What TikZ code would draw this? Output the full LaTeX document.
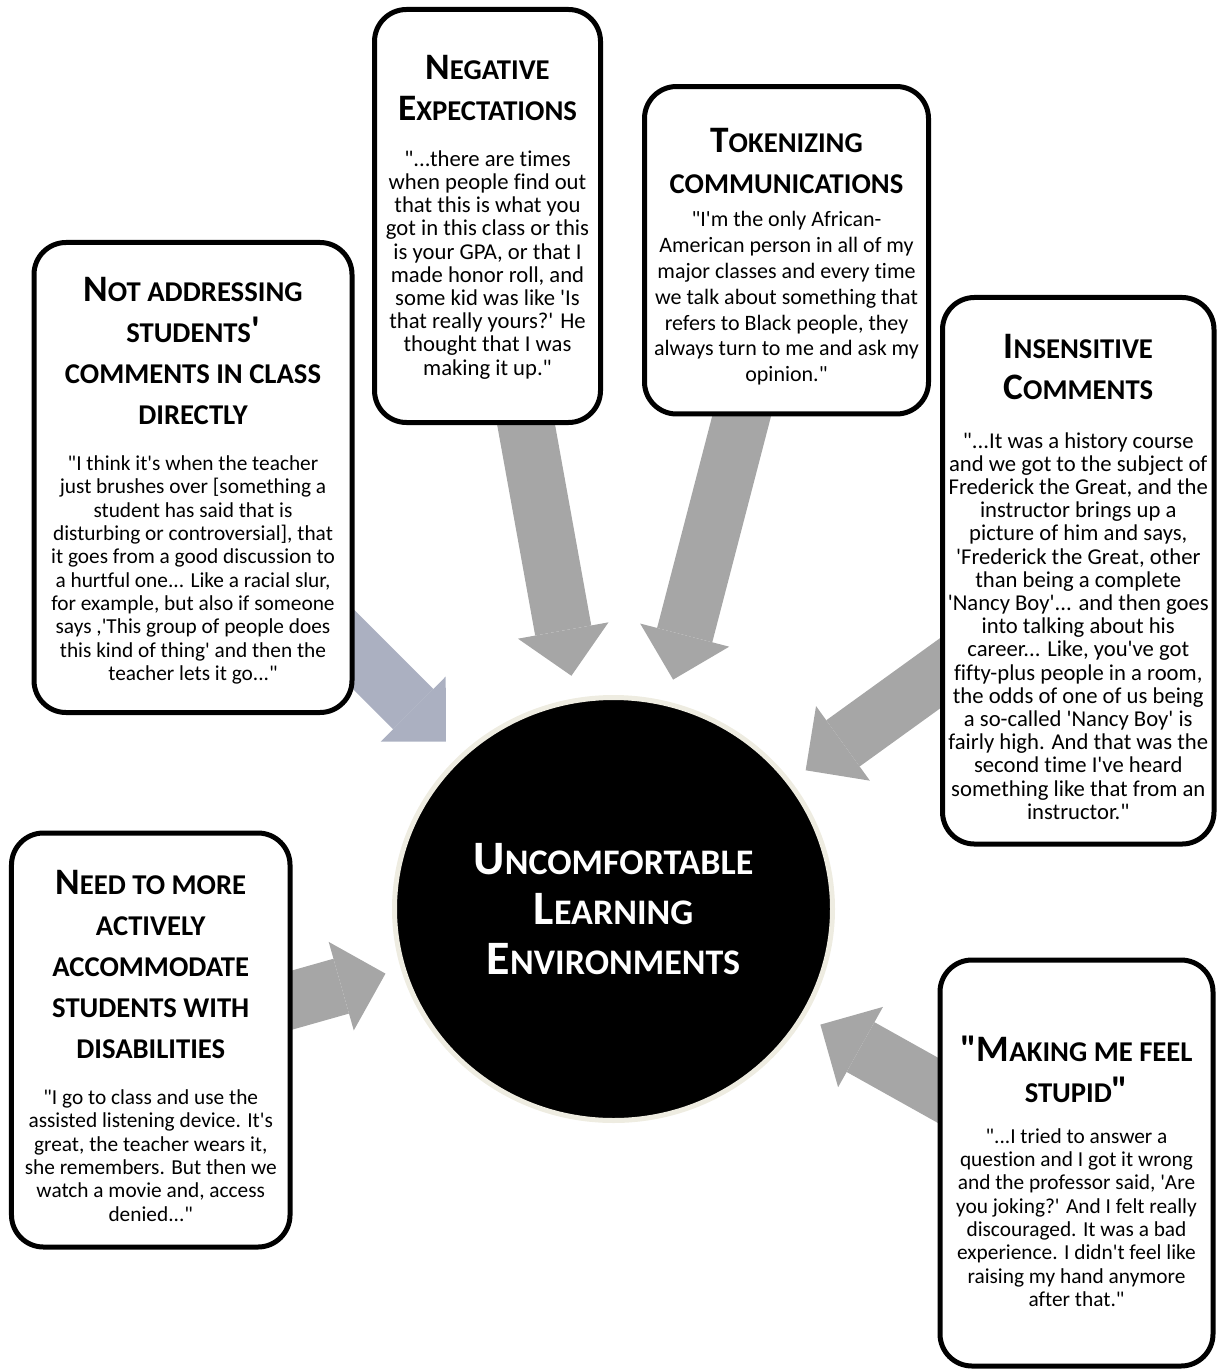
\documentclass[tikz,border=0pt]{standalone}
\usepackage{fontspec}
\setmainfont{Carlito}[Ligatures={TeXOff,CommonOff}]
\usetikzlibrary{positioning}
\usetikzlibrary{arrows.meta}
\usetikzlibrary{shapes.geometric}
\usetikzlibrary{backgrounds}

\definecolor{arrowgray}{HTML}{A6A6A6}
\definecolor{arrowblue}{HTML}{ABB0C1}
\definecolor{ringbeige}{HTML}{EEECE1}

% big letters inside the small caps headings
\newcommand\Ini[1]{{\fontsize{28}{30.75}\selectfont #1}}
\newcommand\Hub[1]{{\fontsize{36}{37.5}\selectfont #1}}
\newcommand\titlefont{\fontsize{21.5}{30.75}\selectfont\bfseries}
\newcommand\quotefont{\fontsize{16}{17.5}\selectfont}
\newcommand\widequotefont{\fontsize{17}{17.4}\selectfont}

\tikzset{
  card/.style={draw=black, line width=3.75pt, fill=white, rounded corners=24pt, inner sep=0pt},
  cardtitle/.style={align=center, inner sep=0pt, font=\titlefont},
  cardquote/.style={align=center, inner sep=0pt, font=\quotefont},
  blockarrow/.style={draw=arrowgray, line width=42.75pt, shorten >=177.75pt,
    -{Triangle[length=34.5pt, width=69pt, line width=0pt]}},
}

\begin{document}
\begin{tikzpicture}[x=0.75pt, y=-0.75pt]
  \useasboundingbox (0,0) rectangle (1217,1369);

  % centre
  \node[ellipse, draw=ringbeige, line width=3.75pt, fill=black, text=white, inner sep=0pt,
    minimum width=328.5pt, minimum height=317.25pt, align=center,
    font=\fontsize{27}{37.5}\selectfont\bfseries] (hub) at (613.5,909)
    {\Hub{U}NCOMFORTABLE\\\Hub{L}EARNING\\\Hub{E}NVIRONMENTS};

  % not addressing comments
  \node[card, minimum width=238.5pt, minimum height=352.5pt] (notaddr) at (193,477.5) {};
  \node[cardtitle, below=28pt of notaddr.north] (notaddrtitle)
    {\Ini{N}OT ADDRESSING\\STUDENTS\Ini{'}\\COMMENTS IN CLASS\\DIRECTLY};
  \node[cardquote, below=22.5pt of notaddrtitle.south] (notaddrquote)
    {"I think it's when the teacher\\just brushes over [something a\\student has said that is\\disturbing or controversial], that\\it goes from a good discussion to\\a hurtful one... Like a racial slur,\\for example, but also if someone\\says ,'This group of people does\\this kind of thing' and then the\\teacher lets it go..."};

  % negative expectations
  \node[card, minimum width=169.5pt, minimum height=309.75pt] (negexp) at (487.5,216) {};
  \node[cardtitle, below=36pt of negexp.north] (negexptitle)
    {\Ini{N}EGATIVE\\\Ini{E}XPECTATIONS};
  \node[cardquote, font=\widequotefont, below=22pt of negexptitle.south] (negexpquote)
    {"...there are times\\when people find out\\that this is what you\\got in this class or this\\is your GPA, or that I\\made honor roll, and\\some kid was like 'Is\\that really yours?' He\\thought that I was\\making it up."};

  % tokenizing
  \node[card, minimum width=213pt, minimum height=245.6pt] (token) at (786.5,250.25) {};
  \node[cardtitle, below=33pt of token.north] (tokentitle)
    {\Ini{T}OKENIZING\\COMMUNICATIONS};
  \node[cardquote, font=\fontsize{16.5}{19.35}\selectfont, below=13pt of tokentitle.south] (tokenquote)
    {"I'm the only African-\\American person in all of my\\major classes and every time\\we talk about something that\\refers to Black people, they\\always turn to me and ask my\\opinion."};

  % insensitive comments
  \node[card, minimum width=203.6pt, minimum height=409.9pt] (insens) at (1078.25,570.75) {};
  \node[cardtitle, below=29.3pt of insens.north] (insenstitle)
    {\Ini{I}NSENSITIVE\\\Ini{C}OMMENTS};
  \node[cardquote, font=\widequotefont, below=24pt of insenstitle.south] (insensquote)
    {"...It was a history course\\and we got to the subject of\\Frederick the Great, and the\\instructor brings up a\\picture of him and says,\\'Frederick the Great, other\\than being a complete\\'Nancy Boy'... and then goes\\into talking about his\\career... Like, you've got\\fifty-plus people in a room,\\the odds of one of us being\\a so-called 'Nancy Boy' is\\fairly high. And that was the\\second time I've heard\\something like that from an\\instructor."};

  % accommodate disabilities
  \node[card, minimum width=208.9pt, minimum height=310.5pt] (needacc) at (150.75,1040) {};
  \node[cardtitle, below=30pt of needacc.north] (needacctitle)
    {\Ini{N}EED TO MORE\\ACTIVELY\\ACCOMMODATE\\STUDENTS WITH\\DISABILITIES};
  \node[cardquote, below=22.5pt of needacctitle.south] (needaccquote)
    {"I go to class and use the\\assisted listening device. It's\\great, the teacher wears it,\\she remembers. But then we\\watch a movie and, access\\denied..."};

  % feeling stupid
  \node[card, minimum width=204.75pt, minimum height=304.5pt] (stupid) at (1076.5,1163) {};
  \node[cardtitle, below=58.75pt of stupid.north] (stupidtitle)
    {\Ini{"M}AKING ME FEEL\\STUPID\Ini{"}};
  \node[cardquote, below=18.75pt of stupidtitle.south] (stupidquote)
    {"...I tried to answer a\\question and I got it wrong\\and the professor said, 'Are\\you joking?' And I felt really\\discouraged. It was a bad\\experience. I didn't feel like\\raising my hand anymore\\after that."};

  % arrows into the centre
  \begin{scope}[on background layer]
    \coordinate (s1) at (300,596);
    \coordinate (s2) at (518,380);
    \coordinate (s3) at (751,380);
    \coordinate (s4) at (1000,630);
    \coordinate (s5) at (250,1012);
    \coordinate (s6) at (1000,1125);
    \draw[blockarrow, draw=arrowblue] (s1) -- (hub.center);
    \draw[blockarrow] (s2) -- (hub.center);
    \draw[blockarrow] (s3) -- (hub.center);
    \draw[blockarrow] (s4) -- (hub.center);
    \draw[blockarrow] (s5) -- (hub.center);
    \draw[blockarrow] (s6) -- (hub.center);
  \end{scope}
\end{tikzpicture}
\end{document}
